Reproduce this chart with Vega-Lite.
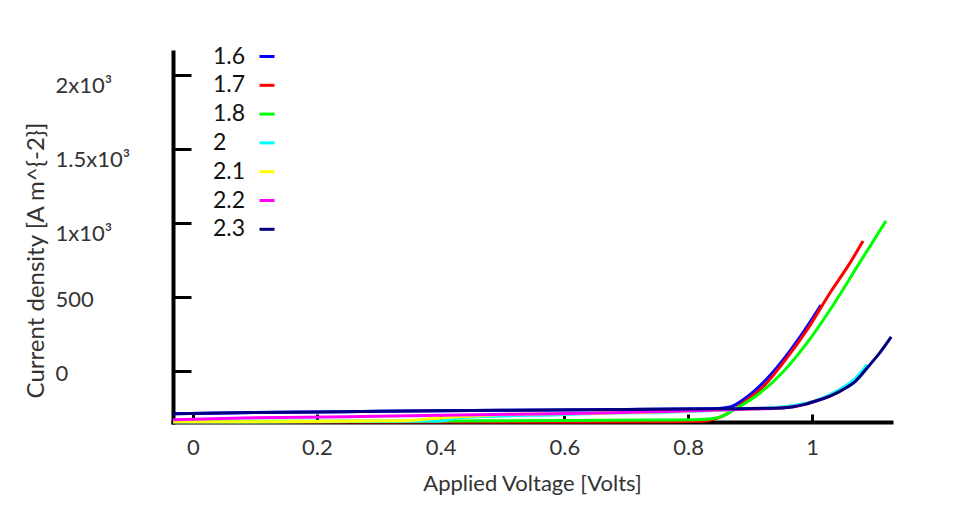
{
  "$schema": "https://vega.github.io/schema/vega-lite/v6.json",
  "width": 718,
  "height": 370,
  "autosize": {"type": "none"},
  "padding": {"left": 173, "top": 52, "right": 78, "bottom": 108},
  "background": "white",
  "config": {"view": {"stroke": null}, "font": "Lato"},
  "data": {
    "values": [
      {"s": "1.6", "v": -0.032, "j": -290}, {"s": "1.6", "v": 0.1, "j": -281}, {"s": "1.6", "v": 0.3, "j": -273},
      {"s": "1.6", "v": 0.5, "j": -266}, {"s": "1.6", "v": 0.7, "j": -260}, {"s": "1.6", "v": 0.84, "j": -255},
      {"s": "1.6", "v": 0.8675, "j": -243}, {"s": "1.6", "v": 0.895, "j": -176}, {"s": "1.6", "v": 0.9208, "j": -81},
      {"s": "1.6", "v": 0.9532, "j": 74}, {"s": "1.6", "v": 0.9806, "j": 230}, {"s": "1.6", "v": 1.0145, "j": 446},

      {"s": "1.7", "v": -0.032, "j": -345}, {"s": "1.7", "v": 0.5, "j": -345}, {"s": "1.7", "v": 0.74, "j": -344},
      {"s": "1.7", "v": 0.82, "j": -340}, {"s": "1.7", "v": 0.845, "j": -322}, {"s": "1.7", "v": 0.8627, "j": -290},
      {"s": "1.7", "v": 0.8885, "j": -216}, {"s": "1.7", "v": 0.9208, "j": -108}, {"s": "1.7", "v": 0.9532, "j": 54},
      {"s": "1.7", "v": 0.9919, "j": 277}, {"s": "1.7", "v": 1.029, "j": 527}, {"s": "1.7", "v": 1.0614, "j": 730},
      {"s": "1.7", "v": 1.0824, "j": 878},

      {"s": "1.8", "v": -0.032, "j": -340}, {"s": "1.8", "v": 0.4, "j": -338}, {"s": "1.8", "v": 0.6, "j": -335},
      {"s": "1.8", "v": 0.74, "j": -332}, {"s": "1.8", "v": 0.82, "j": -328}, {"s": "1.8", "v": 0.846, "j": -318},
      {"s": "1.8", "v": 0.8788, "j": -250}, {"s": "1.8", "v": 0.916, "j": -149}, {"s": "1.8", "v": 0.9532, "j": -7},
      {"s": "1.8", "v": 0.9919, "j": 189}, {"s": "1.8", "v": 1.029, "j": 412}, {"s": "1.8", "v": 1.0727, "j": 703},
      {"s": "1.8", "v": 1.1195, "j": 1014},

      {"s": "2", "v": -0.032, "j": -345}, {"s": "2", "v": 0.19, "j": -344}, {"s": "2", "v": 0.4, "j": -338},
      {"s": "2", "v": 0.43, "j": -316}, {"s": "2", "v": 0.5, "j": -304}, {"s": "2", "v": 0.59, "j": -296},
      {"s": "2", "v": 0.66, "j": -286}, {"s": "2", "v": 0.76, "j": -280}, {"s": "2", "v": 0.85, "j": -266},
      {"s": "2", "v": 0.93, "j": -250}, {"s": "2", "v": 0.97, "j": -234}, {"s": "2", "v": 1.0, "j": -208},
      {"s": "2", "v": 1.03, "j": -158}, {"s": "2", "v": 1.05, "j": -112}, {"s": "2", "v": 1.07, "j": -52},
      {"s": "2", "v": 1.089, "j": 42},

      {"s": "2.1", "v": -0.032, "j": -344}, {"s": "2.1", "v": 0.19, "j": -342}, {"s": "2.1", "v": 0.33, "j": -337},
      {"s": "2.1", "v": 0.4, "j": -318}, {"s": "2.1", "v": 0.52, "j": -292}, {"s": "2.1", "v": 0.62, "j": -287},
      {"s": "2.1", "v": 0.72, "j": -280}, {"s": "2.1", "v": 0.82, "j": -268}, {"s": "2.1", "v": 0.9, "j": -258},
      {"s": "2.1", "v": 0.95, "j": -248}, {"s": "2.1", "v": 0.97, "j": -242}, {"s": "2.1", "v": 0.99, "j": -224},
      {"s": "2.1", "v": 1.01, "j": -198}, {"s": "2.1", "v": 1.03, "j": -168}, {"s": "2.1", "v": 1.05, "j": -126},

      {"s": "2.2", "v": -0.032, "j": -330}, {"s": "2.2", "v": 0.08, "j": -318}, {"s": "2.2", "v": 0.25, "j": -309},
      {"s": "2.2", "v": 0.4, "j": -300}, {"s": "2.2", "v": 0.52, "j": -292}, {"s": "2.2", "v": 0.66, "j": -284},
      {"s": "2.2", "v": 0.78, "j": -272}, {"s": "2.2", "v": 0.88, "j": -260}, {"s": "2.2", "v": 0.95, "j": -250},
      {"s": "2.2", "v": 0.97, "j": -242}, {"s": "2.2", "v": 0.99, "j": -224}, {"s": "2.2", "v": 1.01, "j": -198},
      {"s": "2.2", "v": 1.03, "j": -168},

      {"s": "2.3", "v": -0.032, "j": -290}, {"s": "2.3", "v": 0.1, "j": -281}, {"s": "2.3", "v": 0.3, "j": -273},
      {"s": "2.3", "v": 0.5, "j": -266}, {"s": "2.3", "v": 0.7, "j": -260}, {"s": "2.3", "v": 0.85, "j": -256},
      {"s": "2.3", "v": 0.95, "j": -250}, {"s": "2.3", "v": 0.97, "j": -242}, {"s": "2.3", "v": 0.99, "j": -224},
      {"s": "2.3", "v": 1.01, "j": -198}, {"s": "2.3", "v": 1.03, "j": -168}, {"s": "2.3", "v": 1.05, "j": -126},
      {"s": "2.3", "v": 1.07, "j": -70}, {"s": "2.3", "v": 1.09, "j": 25}, {"s": "2.3", "v": 1.11, "j": 125},
      {"s": "2.3", "v": 1.128, "j": 230}
    ]
  },
  "mark": {"type": "line", "strokeWidth": 3, "interpolate": "monotone"},
  "encoding": {
    "x": {
      "field": "v",
      "type": "quantitative",
      "scale": {"domain": [-0.0323, 1.1276], "nice": false, "zero": false},
      "axis": {
        "title": "Applied Voltage [Volts]",
        "values": [0, 0.2, 0.4, 0.6, 0.8, 1],
        "format": "~g",
        "grid": false,
        "domainColor": "black",
        "domainWidth": 4,
        "domainCap": "square",
        "tickColor": "black",
        "tickWidth": 3,
        "tickSize": -8,
        "labelPadding": 23,
        "labelFontSize": 22,
        "labelColor": "#333333",
        "labelFlush": false,
        "labelOverlap": false,
        "titleFontSize": 22,
        "titleFontWeight": "normal",
        "titleColor": "#333333",
        "titleY": 61,
        "titleBaseline": "middle"
      }
    },
    "y": {
      "field": "j",
      "type": "quantitative",
      "scale": {"domain": [-345, 2155], "nice": false, "zero": false},
      "axis": {
        "title": "Current density [A m^{-2}]",
        "values": [0, 500, 1000, 1500, 2000],
        "labelExpr": "datum.value >= 1000 ? (datum.value / 1000) + 'x10³' : datum.value + ''",
        "grid": false,
        "domainColor": "black",
        "domainWidth": 4,
        "domainCap": "square",
        "tickColor": "black",
        "tickWidth": 3,
        "tickSize": -18,
        "labelAlign": "left",
        "labelBaseline": "middle",
        "labelPadding": 136,
        "labelOffset": {"condition": {"test": "datum.value >= 1000", "value": 11}, "value": 3},
        "labelFontSize": 22,
        "labelColor": "#333333",
        "labelFlush": false,
        "labelOverlap": false,
        "titleFontSize": 24,
        "titleFontWeight": "normal",
        "titleColor": "#333333",
        "titleX": -137,
        "titleY": 208,
        "titleAngle": 270,
        "titleAlign": "center",
        "titleBaseline": "middle"
      }
    },
    "color": {
      "field": "s",
      "type": "nominal",
      "scale": {
        "domain": ["1.6", "1.7", "1.8", "2", "2.1", "2.2", "2.3"],
        "range": ["#0000ff", "#ff0000", "#00ff00", "#00ffff", "#ffff00", "#ff00ff", "#000080"]
      },
      "legend": {
        "title": null,
        "orient": "none",
        "legendX": 82.5,
        "legendY": -7,
        "padding": 0,
        "symbolType": "stroke",
        "symbolSize": 225,
        "symbolStrokeWidth": 3,
        "labelFontSize": 23,
        "labelColor": "#111111",
        "labelAlign": "left",
        "labelBaseline": "middle",
        "labelOffset": -65.5,
        "labelLimit": 0,
        "rowPadding": 4.8
      }
    }
  }
}
